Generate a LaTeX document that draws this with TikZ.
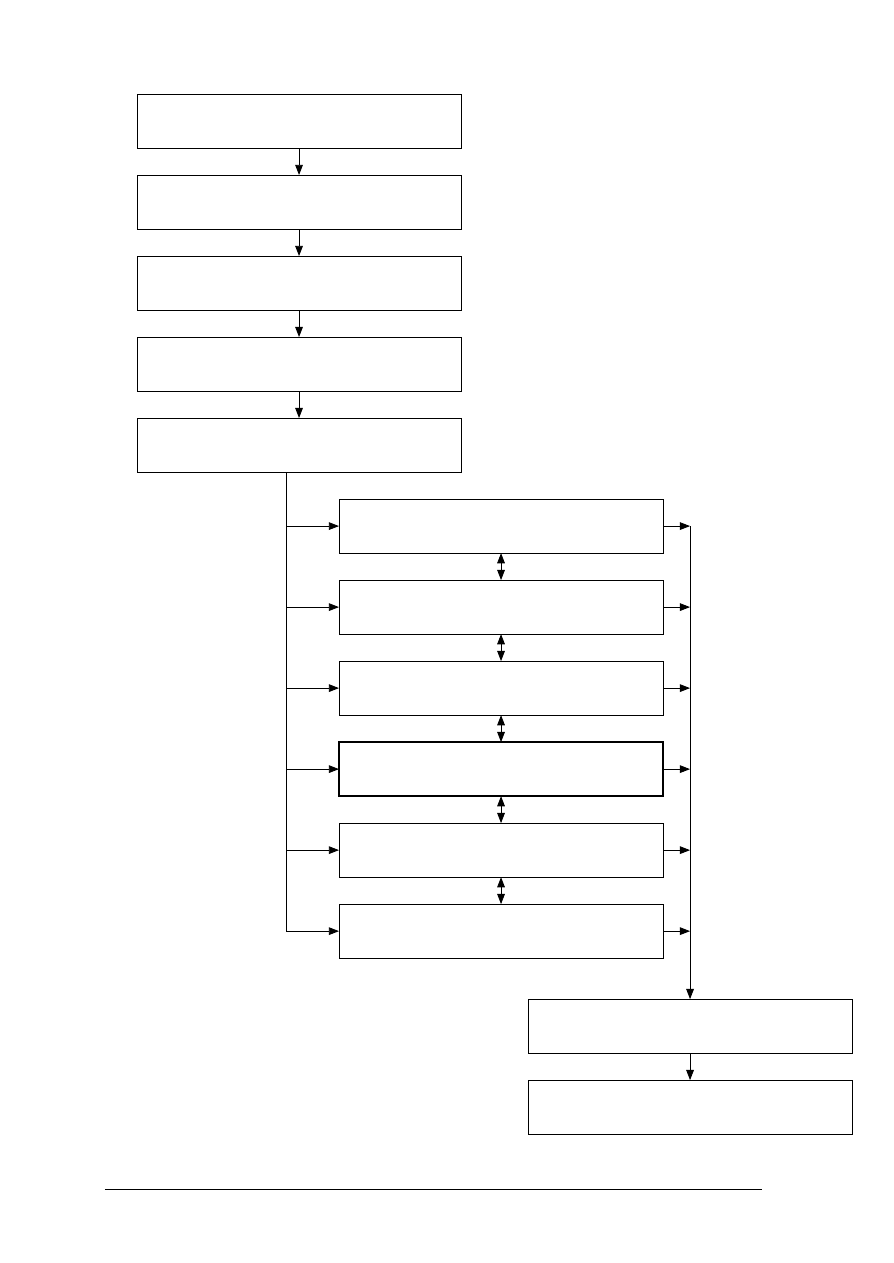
\documentclass[tikz,border=0pt]{standalone}
\usepackage{tikz}
\usetikzlibrary{arrows.meta, positioning, calc}

\begin{document}
\begin{tikzpicture}[node distance=0.635cm, line width=0.6pt,
    blk/.style={draw, line width=0.6pt, outer sep=0pt, minimum width=7.62cm, minimum height=1.27cm, inner sep=0pt},
    hot/.style={blk, line width=1.8pt},
    arrow/.style={-{Triangle[length=0.24cm, width=0.18cm]}},
    both/.style={{Triangle[length=0.24cm, width=0.18cm]}-{Triangle[length=0.24cm, width=0.18cm]}}]
    \useasboundingbox (0,0) rectangle (21,-29.7);

    % upper chain
    \node[blk] (s1) at (7.032,-2.846) {};
    \node[blk, below=of s1] (s2) {};
    \node[blk, below=of s2] (s3) {};
    \node[blk, below=of s3] (s4) {};
    \node[blk, below=of s4] (s5) {};

    % parallel group
    \node[blk, below=of s5, xshift=4.75cm] (p1) {};
    \node[blk, below=of p1] (p2) {};
    \node[blk, below=of p2] (p3) {};
    \node[hot, below=of p3] (p4) {};
    \node[blk, below=of p4] (p5) {};
    \node[blk, below=of p5] (p6) {};

    % lower chain
    \node[blk, below=0.964cm of p6, xshift=4.445cm] (r1) {};
    \node[blk, below=of r1] (r2) {};

    \draw[arrow] (s1) -- (s2);
    \draw[arrow] (s2) -- (s3);
    \draw[arrow] (s3) -- (s4);
    \draw[arrow] (s4) -- (s5);

    \coordinate (split) at ($(s5.south)+(-0.306,0)$);
    \draw[arrow] (split) |- (p6.west);
    \foreach \i in {1,...,5}
        \draw[arrow] (split |- p\i.west) -- (p\i.west);

    \foreach \i/\j in {1/2,2/3,3/4,4/5,5/6}
        \draw[both] (p\i) -- (p\j);

    \foreach \i in {1,...,6}
        \draw[arrow] (p\i.east) -- (r1.north |- p\i.east);
    \draw[arrow] (r1.north |- p1.east) -- (r1.north);
    \draw[arrow] (r1) -- (r2);

    \draw (2.469,-27.98) -- (17.92,-27.98);
\end{tikzpicture}
\end{document}
